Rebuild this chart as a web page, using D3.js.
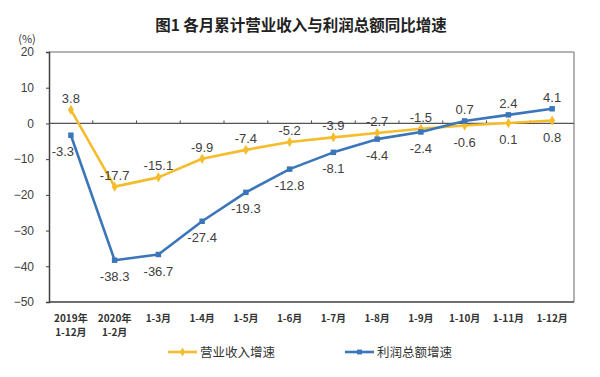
<!DOCTYPE html>
<html><head><meta charset="utf-8">
<script src="https://cdn.jsdelivr.net/npm/d3@7/dist/d3.min.js"></script>
<style>body{margin:0;background:#fff}svg{display:block}</style>
</head><body>
<svg id="c" width="600" height="377"></svg>
<script>
const categories = [["2019年","1-12月"],["2020年","1-2月"],["1-3月"],["1-4月"],["1-5月"],["1-6月"],["1-7月"],["1-8月"],["1-9月"],["1-10月"],["1-11月"],["1-12月"]];
const revenue = [3.8,-17.7,-15.1,-9.9,-7.4,-5.2,-3.9,-2.7,-1.5,-0.6,0.1,0.8];
const profit = [-3.3,-38.3,-36.7,-27.4,-19.3,-12.8,-8.1,-4.4,-2.4,0.7,2.4,4.1];
const yTicks = [20,10,0,-10,-20,-30,-40,-50];
const revenueLabelPos = ["a","a","a","a","a","a","a","a","a","b","b","b"];
const profitLabelPos = ["bl","b","b","b","b","b","b","b","b","a","a","a"];
const seriesNames = ["营业收入增速","利润总额增速"];
const title = "图1  各月累计营业收入与利润总额同比增速";

const svg = d3.select("#c");
const L=49,R=574,T=52,B=302;
const x = d3.scaleBand().domain(d3.range(categories.length)).range([L,R]);
const y = d3.scaleLinear().domain([-50,20]).range([B,T]);
const cx = i => x(i)+x.bandwidth()/2;
const YEL="#F5BD2C", BLU="#3B76BA";
const numFont="'Liberation Sans', Arial, sans-serif";
const cjk="'Noto Sans CJK SC', sans-serif";

svg.append("text").attr("x",301).attr("y",31).attr("text-anchor","middle")
  .attr("font-family",cjk).attr("font-weight","bold").attr("font-size",15.5).attr("fill","#222").text(title);
svg.append("text").attr("x",27).attr("y",43).attr("text-anchor","middle")
  .attr("font-family",cjk).attr("font-size",11).attr("fill","#333").text("(%)");

// frame
svg.append("line").attr("x1",L).attr("x2",R).attr("y1",T).attr("y2",T).attr("stroke","#9a9a9a").attr("stroke-width",1.5);
svg.append("line").attr("x1",R).attr("x2",R).attr("y1",T).attr("y2",B).attr("stroke","#9a9a9a").attr("stroke-width",1.5);

// y axis
const ya = svg.append("g").attr("transform",`translate(${L},0)`)
  .call(d3.axisLeft(y).tickValues(yTicks).tickSize(3).tickPadding(12).tickFormat(d3.format("d")));
ya.select(".domain").attr("stroke","#404040").attr("stroke-width",1.5);
ya.selectAll("line").attr("stroke","#404040");
ya.selectAll("text").attr("font-family",numFont).attr("font-size",12).attr("fill","#404040");

// bottom axis line
svg.append("line").attr("x1",L).attr("x2",R).attr("y1",B).attr("y2",B).attr("stroke","#404040").attr("stroke-width",1.5);
// zero line with ticks
svg.append("line").attr("x1",L).attr("x2",R).attr("y1",y(0)).attr("y2",y(0)).attr("stroke","#555").attr("stroke-width",1.2);
svg.append("g").selectAll("line").data(d3.range(1,categories.length)).join("line")
  .attr("x1",i=>x(i)).attr("x2",i=>x(i)).attr("y1",y(0)).attr("y2",y(0)-3).attr("stroke","#555");

// x labels
const xl = svg.append("g").selectAll("text").data(categories).join("text")
  .attr("text-anchor","middle").attr("font-family",cjk).attr("font-weight","bold")
  .attr("font-size",10).attr("fill","#333");
xl.each(function(d,i){
  const t=d3.select(this);
  d.forEach((s,k)=>t.append("tspan").attr("x",cx(i)).attr("y",322+k*14).text(s));
});

const line = d3.line().x((d,i)=>cx(i)).y(d=>y(d));
function drawSeries(vals,color,shape,pos){
  svg.append("path").datum(vals).attr("d",line).attr("fill","none").attr("stroke",color).attr("stroke-width",2.6).attr("stroke-linejoin","round");
  svg.append("g").selectAll("path").data(vals).join("path")
    .attr("transform",(d,i)=>`translate(${cx(i)},${y(d)})`)
    .attr("d",d3.symbol().type(shape).size(30)).attr("fill",color);
  svg.append("g").selectAll("text").data(vals).join("text")
    .attr("x",(d,i)=>cx(i)+(pos[i]==="bl"?-8:0))
    .attr("y",(d,i)=>y(d)+(pos[i]==="a"?-7:21))
    .attr("text-anchor","middle").attr("font-family",numFont).attr("font-size",13).attr("fill","#404040")
    .text(d=>d.toFixed(1));
}
drawSeries(revenue,YEL,d3.symbolDiamond,revenueLabelPos);
drawSeries(profit,BLU,d3.symbolSquare,profitLabelPos);

// legend
const leg=[{c:YEL,s:d3.symbolDiamond,x:168,n:seriesNames[0]},{c:BLU,s:d3.symbolSquare,x:345,n:seriesNames[1]}];
leg.forEach(o=>{
  svg.append("line").attr("x1",o.x).attr("x2",o.x+29).attr("y1",352).attr("y2",352).attr("stroke",o.c).attr("stroke-width",2.6);
  svg.append("path").attr("transform",`translate(${o.x+14.5},352)`).attr("d",d3.symbol().type(o.s).size(24)).attr("fill",o.c);
  svg.append("text").attr("x",o.x+32).attr("y",357).attr("font-family",cjk).attr("font-size",12.5).attr("fill","#333").text(o.n);
});
</script>
</body></html>
